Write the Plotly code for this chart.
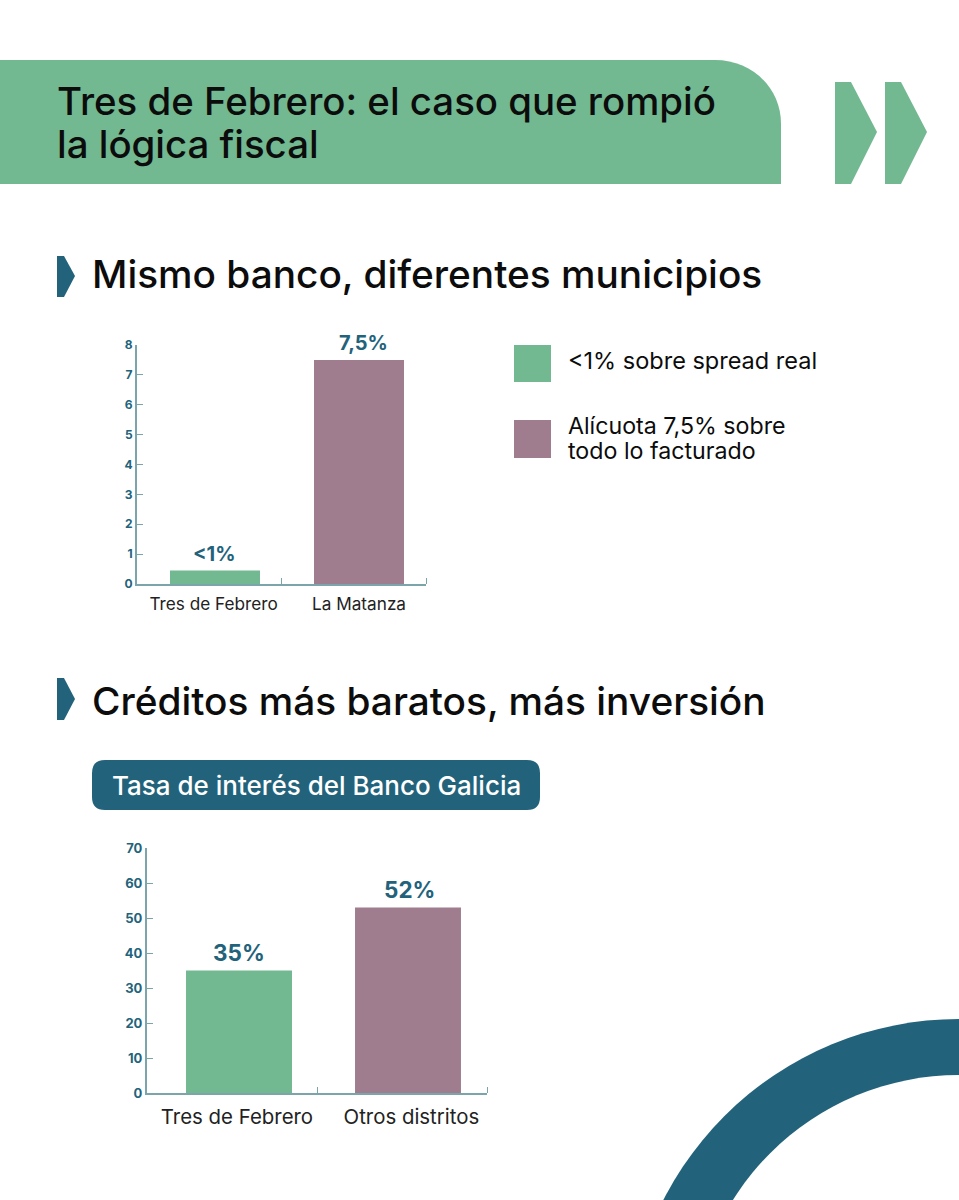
import plotly.graph_objects as go

W, H = 959, 1200
FONT = "Inter"
GREEN = "#72B890"
MAUVE = "#9F7D8E"
TEAL = "#22637B"
AXIS = "#7BA5AB"
BLACK = "#0C0C0C"

# %% data
bank_cats = ["Tres de Febrero", "La Matanza"]
bank_vals = [0.45, 7.5]
bank_text = ["&lt;1%", "7,5%"]
bank_yticks = [0, 1, 2, 3, 4, 5, 6, 7, 8]

rate_cats = ["Tres de Febrero", "Otros distritos"]
rate_vals = [35, 53]
rate_text = ["35%", "52%"]
rate_yticks = [0, 10, 20, 30, 40, 50, 60, 70]


def px_x(x):
    return x / W


def px_y(y):
    return 1 - y / H


def poly(points, color):
    path = "M " + " L ".join(f"{px_x(x)} {px_y(y)}" for x, y in points) + " Z"
    return dict(type="path", xref="paper", yref="paper", path=path, fillcolor=color, line_width=0, layer="below")


def rect(x0, y0, x1, y1, color):
    return dict(type="rect", xref="paper", yref="paper", x0=px_x(x0), x1=px_x(x1), y0=px_y(y0), y1=px_y(y1),
                fillcolor=color, line_width=0, layer="below")


def circle(cx, cy, r, color):
    return dict(type="circle", xref="paper", yref="paper", x0=px_x(cx - r), x1=px_x(cx + r),
                y0=px_y(cy + r), y1=px_y(cy - r), fillcolor=color, line_width=0, layer="below")


def rounded(x0, y0, x1, y1, r, color):
    p = lambda x, y: f"{px_x(x)} {px_y(y)}"
    path = (f"M {p(x0 + r, y0)} L {p(x1 - r, y0)} Q {p(x1, y0)} {p(x1, y0 + r)} L {p(x1, y1 - r)} "
            f"Q {p(x1, y1)} {p(x1 - r, y1)} L {p(x0 + r, y1)} Q {p(x0, y1)} {p(x0, y1 - r)} "
            f"L {p(x0, y0 + r)} Q {p(x0, y0)} {p(x0 + r, y0)} Z")
    return dict(type="path", xref="paper", yref="paper", path=path, fillcolor=color, line_width=0, layer="below")


def label(x, y, text, size, color=BLACK, weight=500, anchor="left"):
    return dict(xref="paper", yref="paper", x=px_x(x), y=px_y(y), text=text, showarrow=False,
                xanchor=anchor, yanchor="middle", align="left",
                font=dict(family=FONT, size=size, color=color, weight=weight))


def bar_labels(vals, texts, xref, yref, size, xshifts):
    return [
        dict(x=i, y=v, xref=xref, yref=yref, text=t, showarrow=False, yanchor="bottom", yshift=3, xshift=xshifts[i],
             font=dict(family=FONT, size=size, color=TEAL, weight=700))
        for i, (v, t) in enumerate(zip(vals, texts))
    ]


p = lambda x, y: f"{px_x(x)} {px_y(y)}"
header = (f"M {p(0, 60)} L {p(715, 60)} C {p(752, 60)} {p(781, 88)} {p(781, 124)} "
          f"L {p(781, 184)} L {p(0, 184)} Z")

shapes = [
    dict(type="path", xref="paper", yref="paper", path=header, fillcolor=GREEN, line_width=0, layer="below"),
    poly([(835, 82), (851, 82), (877, 132), (851, 184), (835, 184)], GREEN),
    poly([(885, 82), (901, 82), (927, 132), (901, 184), (885, 184)], GREEN),
    poly([(57, 256), (64, 256), (75, 276), (64, 297), (57, 297)], TEAL),
    poly([(57, 678), (64, 678), (75, 699), (64, 720), (57, 720)], TEAL),
    rect(514, 345, 551, 382, GREEN),
    rect(514, 420, 551, 458, MAUVE),
    rounded(92, 760, 540, 810, 13, TEAL),
    circle(959, 1351, 332, TEAL),
    circle(959, 1342, 267, "white"),
]

annotations = [
    label(55, 101, "Tres de Febrero: el caso que rompió", 38.4),
    label(55, 144, "la lógica fiscal", 38.4),
    label(90, 274, "Mismo banco, diferentes municipios", 38.8),
    label(90, 700, "Créditos más baratos, más inversión", 38.8),
    label(566, 361, "&lt;1% sobre spread real", 23.5, weight=400),
    label(566, 426, "Alícuota 7,5% sobre", 23.2, weight=400),
    label(566, 451, "todo lo facturado", 23.2, weight=400),
    label(316, 785, "Tasa de interés del Banco Galicia", 26, color="white", anchor="center"),
]
annotations += bar_labels(bank_vals, bank_text, "x", "y", 20, [-1, 4])
annotations += bar_labels(rate_vals, rate_text, "x2", "y2", 22.5, [0, 1])

fig = go.Figure()
fig.add_trace(go.Bar(
    x=[0, 1], y=bank_vals, width=0.625, marker_color=[GREEN, MAUVE], marker_line_width=0, xaxis="x", yaxis="y",
))
fig.add_trace(go.Bar(
    x=[0, 1], y=rate_vals, width=0.627, marker_color=[GREEN, MAUVE], marker_line_width=0, xaxis="x2", yaxis="y2",
))


def x_axis(x0, x1, c0, step, cats, size, anchor, standoff, label_pos):
    lo = (x0 - c0) / step
    hi = (x1 - c0) / step
    mid = (x0 + x1) / 2
    return dict(
        domain=[px_x(x0), px_x(x1)], range=[lo, hi], anchor=anchor, tickmode="array", tickvals=label_pos, ticktext=cats,
        ticks="", showgrid=False, zeroline=False, showline=True, linecolor=AXIS, linewidth=1.5,
        ticklabelstandoff=standoff, tickfont=dict(family=FONT, size=size, color="#222222"),
        minor=dict(tickmode="array", tickvals=[(mid - c0) / step, hi], ticks="inside", ticklen=6, tickcolor=AXIS,
                   tickwidth=1, showgrid=False),
    )


def y_axis(y_top, y_bot, top, ticks, anchor, size):
    return dict(
        domain=[px_y(y_bot), px_y(y_top)], range=[0, top], anchor=anchor, tickmode="array", tickvals=ticks,
        ticks="inside", ticklen=6, tickcolor=AXIS, tickwidth=1, showgrid=False, zeroline=False,
        showline=True, linecolor=AXIS, linewidth=2,
        tickfont=dict(family=FONT, size=size, color=TEAL, weight=700),
    )


fig.update_layout(
    width=W, height=H, margin=dict(l=0, r=0, t=0, b=0, autoexpand=False), autosize=False,
    paper_bgcolor="white", plot_bgcolor="rgba(0,0,0,0)", showlegend=False, shapes=shapes, annotations=annotations,
    xaxis=x_axis(137, 426, 215, 144, bank_cats, 17.2, "y", 4, [-0.01, 1.0]),
    yaxis=y_axis(345, 584, 8, bank_yticks, "x", 12),
    xaxis2=x_axis(147, 487, 239, 169, rate_cats, 20.4, "y2", 5, [-0.012, 1.02]),
    yaxis2=y_axis(848, 1093, 70, rate_yticks, "x2", 13),
)

fig.write_html("out.html", config={"displayModeBar": False}, post_script="document.body.style.margin='0';")
